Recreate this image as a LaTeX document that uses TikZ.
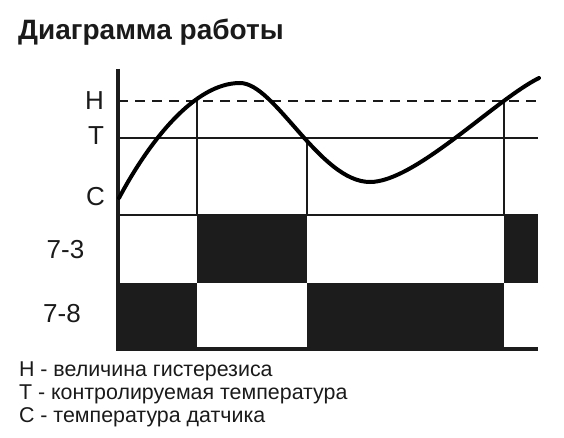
\documentclass[tikz,border=0pt]{standalone}
\usepackage{fontspec}
\setmainfont{Liberation Sans}
\definecolor{ink}{HTML}{1A1A1A}
\definecolor{blk}{HTML}{1C1C1C}
\begin{document}
\begin{tikzpicture}[x=1pt,y=-1pt,
  lbl/.style={inner sep=0pt,outer sep=0pt,text=ink,font=\fontsize{26}{26}\selectfont},
  legend/.style={inner sep=0pt,outer sep=0pt,anchor=base west,text=ink,font=\fontsize{21.4}{21.4}\selectfont},
  thin/.style={line width=1.2pt,draw=ink}]
\useasboundingbox (0,0) rectangle (564,438);
% title
\node[anchor=base west,inner sep=0pt,text=ink,font=\fontsize{28}{28}\selectfont\bfseries] (title) at (18,40) {Диаграмма работы};
% relay blocks
\fill[blk] (197,215) rectangle (307,283);
\fill[blk] (504,215) rectangle (538,283);
\fill[blk] (116,283) rectangle (197,350);
\fill[blk] (307,283) rectangle (504,350);
\fill[blk] (116,346.5) rectangle (538,350.5);
% guide lines
\draw[thin] (118,215) -- (538,215);
\draw[line width=1.6pt,draw=ink] (118,138) -- (538,138);
\draw[line width=2pt,draw=ink,dash pattern=on 10pt off 7pt] (118,101) -- (538,101);
\draw[thin] (197,101) -- (197,215);
\draw[thin] (307,138) -- (307,215);
\draw[thin] (504,101) -- (504,215);
% axis
\draw[line width=3.5pt,draw=blk] (118,69) -- (118,350);
% curve
\draw[line width=4pt,black,line cap=round]
  (119,198) .. controls (150,140) and (195,83) .. (240,83)
  .. controls (275,83) and (320,182) .. (370,182)
  .. controls (415,182) and (495,100) .. (539,78);
% labels
\node[lbl] (H) at (94.5,101) {H};
\node[lbl] (T) at (96,135.5) {T};
\node[lbl] (C) at (95.5,196.5) {C};
\node[lbl] (r73) at (65.5,249.5) {7-3};
\node[lbl] (r78) at (62,314) {7-8};
% legend
\node[legend] (l1) at (19,376) {H - величина гистерезиса};
\node[legend] (l2) at (19,399) {T - контролируемая температура};
\node[legend] (l3) at (19,422) {C - температура датчика};
\end{tikzpicture}
\end{document}
